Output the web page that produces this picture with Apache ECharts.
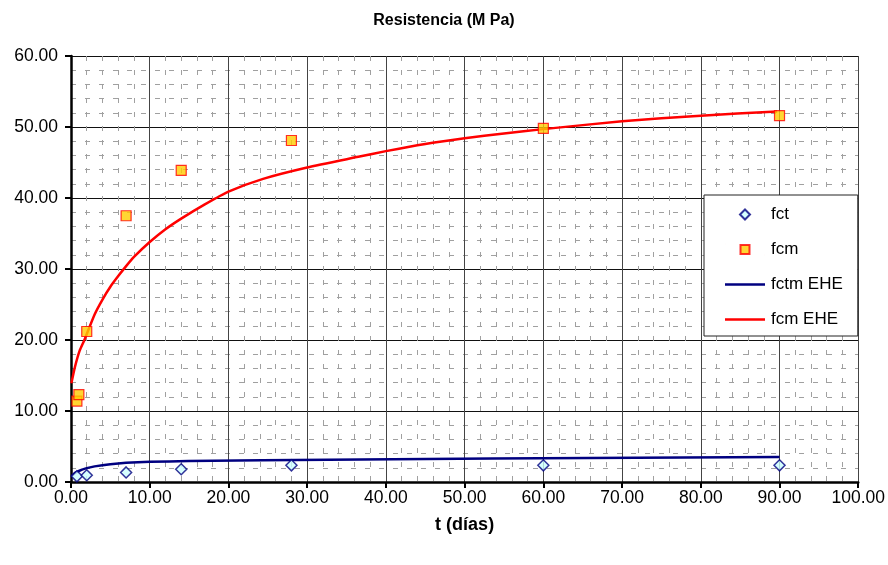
<!DOCTYPE html>
<html>
<head>
<meta charset="utf-8">
<script src="https://cdn.jsdelivr.net/npm/echarts@6/dist/echarts.min.js"></script>
<style>
html,body{margin:0;padding:0;background:#fff;}
#chart{width:888px;height:565px;}
</style>
</head>
<body>
<div id="chart"></div>
<script>
// fct test points (días, MPa)
const fctDays = [0.75, 2, 7, 14, 28, 60, 90];
const fctValues = [0.8, 0.95, 1.35, 1.8, 2.35, 2.35, 2.35];
// fcm test points
const fcmDays = [0.75, 1, 2, 7, 14, 28, 60, 90];
const fcmValues = [11.4, 12.3, 21.2, 37.5, 43.9, 48.1, 49.8, 51.6];
// fctm EHE curve
const fctmEheDays = [0.05, 0.5, 1, 1.4, 2, 3, 4, 5, 7, 10, 12.5, 14.9, 15.1, 24.3, 24.5, 53.5, 53.7, 90];
const fctmEheValues = [0.8, 1.3, 1.55, 1.75, 1.95, 2.2, 2.35, 2.5, 2.7, 2.85, 2.9, 2.95, 3.08, 3.08, 3.3, 3.3, 3.52, 3.52];
// fcm EHE curve
const fcmEheDays = [0.05, 0.5, 1.1, 1.7, 3, 4, 5, 6, 7, 8, 10, 12, 14, 17, 20, 24.4, 30, 36.5, 40, 45, 50, 55, 60, 70, 80, 89.7];
const fcmEheValues = [13.9, 16.2, 18.5, 20.0, 23.6, 25.7, 27.5, 29.0, 30.4, 31.7, 33.8, 35.6, 37.1, 39.1, 40.9, 42.7, 44.3, 45.8, 46.6, 47.6, 48.4, 49.1, 49.7, 50.8, 51.6, 52.2];

const title = 'Resistencia (M Pa)';
const xName = 't (días)';
const seriesNames = ['fct', 'fcm', 'fctm EHE', 'fcm EHE'];

const zip = (a, b) => a.map((v, i) => [v, b[i]]);
const FONT = '"Liberation Sans", Arial, sans-serif';
// legend icons drawn inside a 40x11 box (tiny corner segments fix the box)
const BOX = ' M0,0 L0.01,0 Z M39.99,11 L40,11 Z';
const LINE_ICON = 'path://M0,4.25 L40,4.25 L40,6.75 L0,6.75 Z' + BOX;
const DIAMOND_ICON = 'path://M20,0.5 L25,5.5 L20,10.5 L15,5.5 Z' + BOX;
const SQUARE_ICON = 'path://M15.5,1 L24.5,1 L24.5,10 L15.5,10 Z' + BOX;

const chart = echarts.init(document.getElementById('chart'), null, {renderer: 'canvas'});
chart.setOption({
  animation: false,
  backgroundColor: '#fff',
  title: {
    text: title, left: 'center', top: 8,
    textStyle: {fontFamily: FONT, fontSize: 16, fontWeight: 'bold', color: '#000'}
  },
  grid: {left: 71, right: 27, top: 56, bottom: 83, containLabel: false},
  legend: {
    orient: 'vertical', left: 704, top: 195,
    padding: [11, 15, 8, 20],
    itemGap: 18, itemWidth: 40, itemHeight: 11,
    backgroundColor: '#fff', borderColor: '#222', borderWidth: 1,
    textStyle: {fontFamily: FONT, fontSize: 17, color: '#000', padding: [0, 0, 0, 1]},
    data: [
      {name: seriesNames[0], icon: DIAMOND_ICON},
      {name: seriesNames[1], icon: SQUARE_ICON},
      {name: seriesNames[2], icon: LINE_ICON},
      {name: seriesNames[3], icon: LINE_ICON}
    ]
  },
  xAxis: {
    type: 'value', min: 0, max: 100, interval: 10,
    name: xName, nameLocation: 'middle', nameGap: 34,
    nameTextStyle: {fontFamily: FONT, fontSize: 18, fontWeight: 'bold', color: '#000'},
    axisLine: {lineStyle: {color: '#000', width: 2.5}},
    axisTick: {show: true, length: 6, lineStyle: {color: '#000', width: 2}},
    axisLabel: {fontFamily: FONT, fontSize: 17.5, color: '#000', margin: 7, formatter: v => v.toFixed(2)},
    splitLine: {show: true, lineStyle: {color: '#444', width: 1}},
    minorTick: {show: false, splitNumber: 5},
    minorSplitLine: {show: true, lineStyle: {color: '#a0a0a0', width: 1, type: [5, 9]}}
  },
  yAxis: {
    type: 'value', min: 0, max: 60, interval: 10,
    axisLine: {show: true, lineStyle: {color: '#000', width: 2.5}},
    axisTick: {show: true, length: 6, lineStyle: {color: '#000', width: 2}},
    axisLabel: {fontFamily: FONT, fontSize: 17.5, color: '#000', margin: 13, formatter: v => v.toFixed(2)},
    splitLine: {show: true, lineStyle: {color: '#111', width: 1}},
    minorTick: {show: false, splitNumber: 5},
    minorSplitLine: {show: true, lineStyle: {color: '#a0a0a0', width: 1, type: [5, 9]}}
  },
  series: [
    {
      name: seriesNames[0], type: 'scatter', symbol: 'diamond', symbolSize: 11, z: 5,
      itemStyle: {color: '#ccffff', borderColor: '#000080', borderWidth: 1.5},
      data: zip(fctDays, fctValues)
    },
    {
      name: seriesNames[1], type: 'scatter', symbol: 'rect', symbolSize: 10, z: 5,
      itemStyle: {color: '#ffcc00', borderColor: '#ff0000', borderWidth: 1.2},
      data: zip(fcmDays, fcmValues)
    },
    {
      name: seriesNames[2], type: 'line', symbol: 'none', z: 3,
      lineStyle: {color: '#000080', width: 2.5},
      itemStyle: {color: '#000080'},
      data: zip(fctmEheDays, fctmEheValues)
    },
    {
      name: seriesNames[3], type: 'line', symbol: 'none', smooth: 0.2, z: 3,
      lineStyle: {color: '#ff0000', width: 2.5},
      itemStyle: {color: '#ff0000'},
      data: zip(fcmEheDays, fcmEheValues)
    }
  ]
});
</script>
</body>
</html>
